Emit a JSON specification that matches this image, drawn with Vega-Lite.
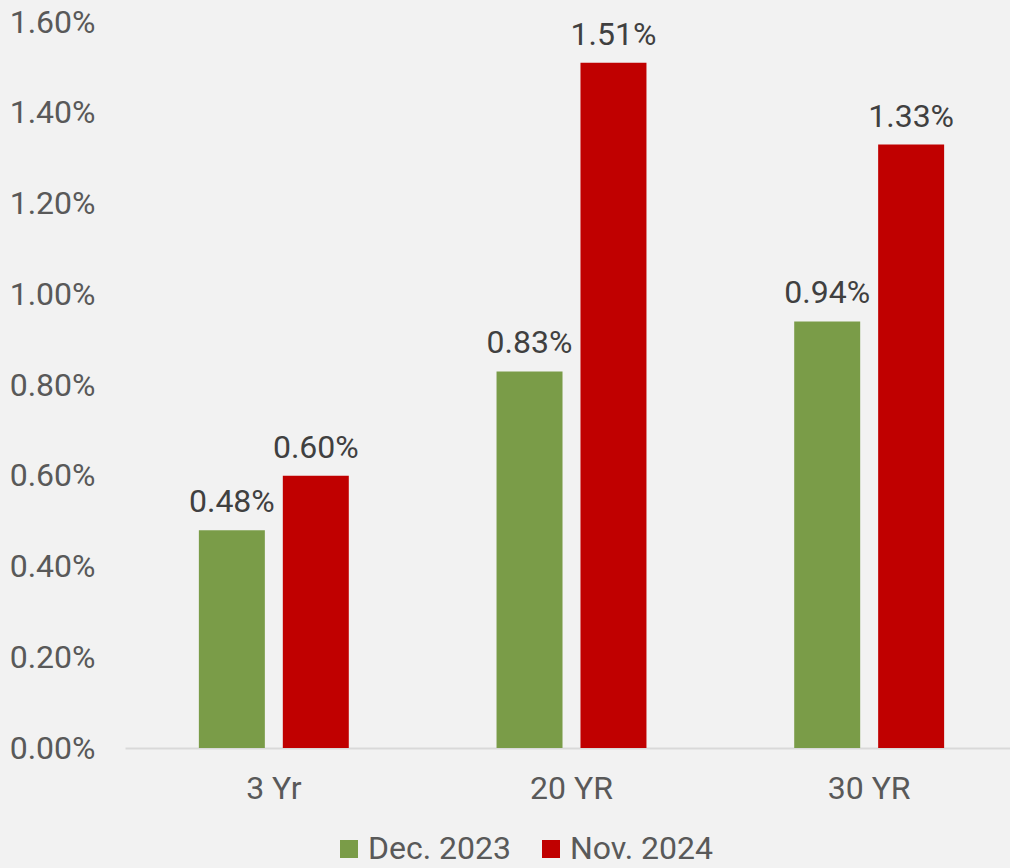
{
  "$schema": "https://vega.github.io/schema/vega-lite/v6.json",
  "autosize": {"type": "none"},
  "padding": {"left": 125, "top": 22, "right": 0, "bottom": 120},
  "width": 885,
  "height": 726,
  "background": "#F2F2F2",
  "config": {
    "view": {"stroke": null},
    "font": "Roboto"
  },
  "data": {
    "values": [
      {"term": "3 Yr", "period": "Dec. 2023", "value": 0.0048},
      {"term": "3 Yr", "period": "Nov. 2024", "value": 0.0060},
      {"term": "20 YR", "period": "Dec. 2023", "value": 0.0083},
      {"term": "20 YR", "period": "Nov. 2024", "value": 0.0151},
      {"term": "30 YR", "period": "Dec. 2023", "value": 0.0094},
      {"term": "30 YR", "period": "Nov. 2024", "value": 0.0133}
    ]
  },
  "encoding": {
    "x": {
      "field": "term", "type": "nominal", "sort": ["3 Yr", "20 YR", "30 YR"],
      "scale": {"range": [0, 893], "paddingInner": 0, "paddingOuter": 0},
      "axis": {
        "title": null, "labelAngle": 0, "ticks": false,
        "domainColor": "#D9D9D9", "domainWidth": 2,
        "labelFont": "Roboto", "labelFontSize": 32, "labelColor": "#595959",
        "labelPadding": 25
      }
    },
    "xOffset": {
      "field": "period", "type": "nominal",
      "scale": {"paddingInner": 0.214, "paddingOuter": 0.88}
    },
    "y": {
      "field": "value", "type": "quantitative",
      "scale": {"domain": [0, 0.016], "nice": false},
      "axis": {
        "title": null, "format": ".2%", "values": [0, 0.002, 0.004, 0.006, 0.008, 0.010, 0.012, 0.014, 0.016],
        "grid": false, "ticks": false, "domain": false,
        "labelFont": "Roboto", "labelFontSize": 32, "labelColor": "#595959",
        "labelPadding": 30
      }
    }
  },
  "layer": [
    {
      "mark": {"type": "bar"},
      "encoding": {
        "color": {
          "field": "period", "type": "nominal",
          "scale": {"domain": ["Dec. 2023", "Nov. 2024"], "range": ["#7A9C48", "#C00000"]},
          "legend": {
            "title": null, "orient": "none", "direction": "horizontal",
            "legendX": 208, "legendY": 811,
            "symbolType": "square", "symbolSize": 324, "symbolStrokeWidth": 0, "symbolOpacity": 1,
            "labelFont": "Roboto", "labelFontSize": 32, "labelColor": "#595959",
            "labelOffset": 3, "columnPadding": 23
          }
        }
      }
    },
    {
      "mark": {"type": "text", "baseline": "alphabetic", "align": "center", "dy": -18, "font": "Roboto", "fontSize": 32, "color": "#404040"},
      "encoding": {
        "text": {"field": "value", "type": "quantitative", "format": ".2%"}
      }
    }
  ]
}
